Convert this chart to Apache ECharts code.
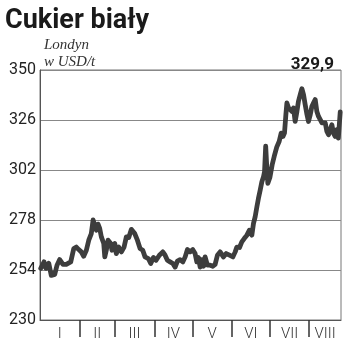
<!DOCTYPE html>
<html><head><meta charset="utf-8">
<script src="https://cdn.jsdelivr.net/npm/echarts@6/dist/echarts.min.js"></script>
<style>html,body{margin:0;padding:0;background:#fff}#c{width:350px;height:354px}</style>
</head><body><div id="c"></div>
<script>
// day of year (0 = 1 Jan)
const days = [0.6,3.2,4.7,6.9,8.9,11.6,13.4,15.5,18.1,20.7,24.2,26.6,28.6,30.5,32.5,34.4,36.5,38.4,40.4,41.8,43.1,44.4,45.7,47,48.3,50.2,51,52.2,53.6,55.7,56.7,58.9,60.1,62,64.1,66.2,68,69.9,71.9,73.3,74.6,76.7,78.8,80.9,82.7,85.3,87.2,89.3,91.4,94,96.7,98.5,100.3,102.4,104.6,106.4,108.2,110.3,112.5,114.3,116.1,118.2,120.3,122.1,123.5,124.7,126.1,127.4,128.7,130,131.8,134,136.1,137.9,139.7,141.8,144.4,146.6,149.2,151.9,153.7,155,157.1,158.9,160.8,162.9,164.9,166.8,168.1,169.4,170.8,172,173.4,174.7,176,176.8,177.7,178.5,179.4,181,182.8,184.4,186.4,188.3,189.9,191.3,192.5,193.6,194.4,195.7,197,198.3,199.6,200.9,202.3,203.5,204.9,206.2,207.5,208.8,210.2,211.4,212.8,214.1,215.4,216.7,218,219.3,220.6,222,223.2,224.6,225.9,227.2,228.5,229.8,231.1,232.4,233.7,234.9,236.4];
const prices = [254.8,257.9,254.8,257.2,251.4,251.9,256.3,259,256.7,256.7,257.9,264.3,265,263.8,262.7,260.6,263.5,268.3,271.5,278,275.5,273.1,276,274,269.9,266.7,260.3,263.5,268.3,266.7,263.5,266.7,261.9,265,262.7,265,269.9,269.6,273.5,274,271.5,268.3,264.3,263.5,260.3,259.5,257.1,260,258.7,261.1,262.7,261.1,258.7,257.9,257.1,255.4,258.3,259,257.9,260.3,263.8,262.7,263.8,261.9,257.9,260,255.4,259,255.8,260.3,256.3,256.3,255.8,256.7,261.1,262.7,260.3,261.9,261.1,260.3,262.7,265,264.8,267.5,269.1,270.7,273.1,270.7,276.4,279.5,284.4,288.4,292.4,296.4,298.8,301.2,313.5,304,295.6,298.4,304.5,308.5,313,315.7,319.7,318.1,319.7,328.6,334.2,331.8,332.6,330.1,331.8,325.3,330.1,335,338.2,341,338.2,333.4,328.6,325.3,328.6,332.6,334.2,335.8,330.1,327.7,328.6,324.6,323.7,324.6,320.5,318.9,321.3,323.7,319.7,318.1,321.3,317.3,329.9];
const monthStarts = [0,31,59,90,120,151,181,212];
const monthLabels = ['I','II','III','IV','V','VI','VII','VIII'];
const lastDay = 237;
const yTicks = [230,254,278,302,326,350];
const title = 'Cukier biały';
const subtitle1 = 'Londyn';
const subtitle2 = 'w USD/t';
const lastValueLabel = '329,9';

const labelPos = monthStarts.map((s,i)=> ((s + (i+1<monthStarts.length ? monthStarts[i+1] : lastDay))/2));
const tickPos = monthStarts.slice(1);

const chart = echarts.init(document.getElementById('c'), null, {renderer:'canvas'});
chart.setOption({
  animation:false,
  backgroundColor:'#fff',
  title:[
    {text:title,left:0,top:3,textStyle:{fontFamily:'Roboto',fontWeight:'bold',fontSize:27,color:'#1a1a1a'}},
    {text:subtitle1,left:39,top:33,textStyle:{fontFamily:'Liberation Serif',fontStyle:'italic',fontWeight:'normal',fontSize:15,color:'#333'}},
    {text:subtitle2,left:39,top:50,textStyle:{fontFamily:'Liberation Serif',fontStyle:'italic',fontWeight:'normal',fontSize:15,color:'#333'}},
    {text:lastValueLabel,right:11,top:51,textStyle:{fontFamily:'Roboto',fontWeight:'bold',fontSize:17,color:'#1a1a1a'}}
  ],
  grid:{left:40,right:9,top:70,bottom:34,show:true,borderColor:'#777',borderWidth:1},
  xAxis:{
    type:'value',min:0,max:lastDay,
    axisLine:{show:true,lineStyle:{color:'#555',width:1}},
    axisTick:{show:true,customValues:tickPos,length:17,inside:false,lineStyle:{color:'#333',width:1.5}},
    axisLabel:{show:true,customValues:labelPos,margin:7,fontFamily:'Roboto',fontWeight:300,fontSize:15,color:'#333',
      formatter:(v)=>{let best=0,d=1e9;labelPos.forEach((p,i)=>{if(Math.abs(p-v)<d){d=Math.abs(p-v);best=i;}});return monthLabels[best];}},
    splitLine:{show:false}
  },
  yAxis:{
    type:'value',min:230,max:350,interval:24,
    axisLine:{show:true,lineStyle:{color:'#555',width:1}},
    axisTick:{show:false},
    axisLabel:{show:true,customValues:yTicks,margin:4,fontFamily:'Roboto',fontSize:16,color:'#222'},
    splitLine:{show:true,lineStyle:{color:'#888',width:1}}
  },
  series:[{
    type:'line',
    data:days.map((d,i)=>[d,prices[i]]),
    showSymbol:false,
    lineStyle:{color:'#3d3d3d',width:4.8,join:'round',cap:'round'},
    itemStyle:{color:'#3d3d3d'}
  }]
});
</script></body></html>
